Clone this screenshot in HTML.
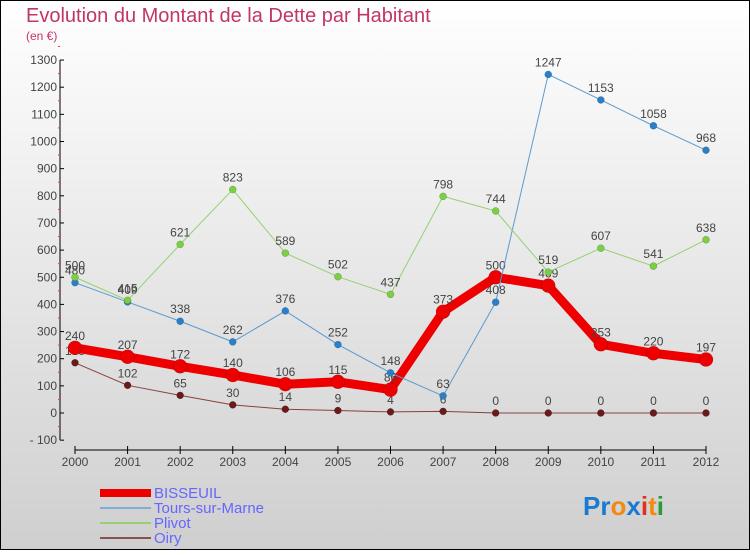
<!DOCTYPE html>
<html><head><meta charset="utf-8"><style>
body{margin:0}
svg text{font-family:"Liberation Sans",sans-serif}
</style></head><body>
<svg id="c" width="750" height="550" xmlns="http://www.w3.org/2000/svg">
<defs><linearGradient id="bg" x1="0" y1="0" x2="0" y2="1"><stop offset="0" stop-color="#ffffff"/><stop offset="1" stop-color="#cfcfcf"/></linearGradient></defs>
<rect x="0.5" y="0.5" width="749" height="549" fill="url(#bg)" stroke="#000"/>
<text x="26" y="22" font-size="20" fill="#c0356a">Evolution du Montant de la Dette par Habitant</text>
<text x="26" y="40" font-size="12" fill="#c0356a">(en €)</text>
<g id="axes"></g><g id="series"></g>
<g>
<rect x="100" y="489" width="51" height="8" fill="#ee0000"/>
<text x="154" y="498" font-size="15" fill="#6666ff">BISSEUIL</text>
<rect x="100" y="507" width="51" height="2" fill="#7eaed4"/>
<text x="154" y="513" font-size="15" fill="#6666ff">Tours-sur-Marne</text>
<rect x="100" y="522" width="51" height="2" fill="#96d070"/>
<text x="154" y="528" font-size="15" fill="#6666ff">Plivot</text>
<rect x="100" y="537" width="51" height="2" fill="#8a5050"/>
<text x="154" y="543" font-size="15" fill="#6666ff">Oiry</text>
</g>
<g font-size="26" font-weight="bold">
<text x="583" y="515"><tspan fill="#1a7ad0">Pr</tspan><tspan fill="#f08a10">o</tspan><tspan fill="#1a7ad0">x</tspan><tspan fill="#e03020">i</tspan><tspan fill="#f08a10">t</tspan><tspan fill="#2a9a3a">i</tspan></text>
</g>
</svg>
<script>
const years=["2000","2001","2002","2003","2004","2005","2006","2007","2008","2009","2010","2011","2012"];
const yTicks=[-100,0,100,200,300,400,500,600,700,800,900,1000,1100,1200,1300];
const bisseuil=[240,207,172,140,106,115,86,373,500,469,253,220,197];
const tours=[480,409,338,262,376,252,148,63,408,1247,1153,1058,968];
const plivot=[500,415,621,823,589,502,437,798,744,519,607,541,638];
const oiry=[185,102,65,30,14,9,4,6,0,0,0,0,0];
const NS="http://www.w3.org/2000/svg";
function X(i){return 75+i*(706-75)/12;}
function Y(v){return 413-v*0.2715;}
function mk(t,a,p){const e=document.createElementNS(NS,t);for(const k in a)e.setAttribute(k,a[k]);p.appendChild(e);return e;}
const ax=document.getElementById('axes');
let yl=mk('line',{x1:60,y1:Y(1300),x2:60,y2:Y(-100),stroke:'#000'},ax);


yTicks.forEach(v=>{
 mk('line',{x1:60,y1:Y(v),x2:64,y2:Y(v),stroke:'#000'},ax);
 mk('line',{x1:58,y1:Y(v+50),x2:60,y2:Y(v+50),stroke:'#f33'},ax);
 const t=mk('text',{x:57,y:Y(v)+4,'font-size':12,fill:'#444','text-anchor':'end'},ax);
 t.textContent=v<0?'- '+(-v):v;
 
 
});
let xl=mk('line',{x1:X(0),y1:450,x2:X(12),y2:450,stroke:'#000'},ax);


years.forEach((y,i)=>{
 mk('line',{x1:X(i),y1:446,x2:X(i),y2:454,stroke:'#000'},ax);
 const t=mk('text',{x:X(i),y:466,'font-size':12,fill:'#444','text-anchor':'middle'},ax);
 t.textContent=y;
 
 
});
const sg=document.getElementById('series');
function series(name,vals,color,w,r,dot){
 const g=mk('g',{},sg);
 
 
 const pl=mk('polyline',{points:vals.map((v,i)=>X(i)+','+Y(v)).join(' '),fill:'none',stroke:color,'stroke-width':w,'stroke-linejoin':'round'},g);
 
 
 vals.forEach((v,i)=>{
  const c=mk('circle',{cx:X(i),cy:Y(v),r:r,fill:dot,stroke:'rgba(0,0,0,0.3)','stroke-width':0.5},g);
  
  
  const t=mk('text',{x:X(i),y:Y(v)-8,'font-size':12,fill:'#444','text-anchor':'middle'},g);
  t.textContent=v;
  
  
 });
}
series('oiry',oiry,'#8a4040',1,3.5,'#6a1a1a');
series('bisseuil',bisseuil,'#ee0000',9,7,'#ee0000');
series('tours',tours,'#5a9ad0',1,3.5,'#2a80c8');
series('plivot',plivot,'#96d070',1,3.5,'#7ad040');
</script>
</body></html>
